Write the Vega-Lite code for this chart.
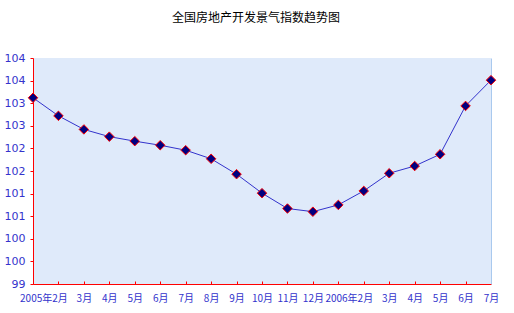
{
  "$schema": "https://vega.github.io/schema/vega-lite/v6.json",
  "width": 458,
  "height": 226,
  "autosize": "none",
  "padding": {"left": 33, "top": 58, "right": 23, "bottom": 29},
  "background": "white",
  "title": {
    "text": "全国房地产开发景气指数趋势图",
    "font": "Noto Sans CJK SC",
    "fontSize": 12,
    "fontWeight": "normal",
    "color": "#000000",
    "anchor": "middle",
    "frame": "group",
    "offset": 27,
    "dx": -6
  },
  "config": {
    "view": {"fill": "#dfeafa", "stroke": null},
    "axis": {
      "labelFont": "DejaVu Sans",
      "labelFontSize": 10,
      "labelColor": "#3333cc",
      "domainColor": "#ff0000",
      "tickColor": "#ff0000",
      "domainWidth": 1,
      "tickWidth": 1,
      "grid": false,
      "title": null
    }
  },
  "data": {
    "values": [
      {"month": "2005-01", "index": 103.12},
      {"month": "2005-02", "index": 102.72},
      {"month": "2005-03", "index": 102.42},
      {"month": "2005-04", "index": 102.26},
      {"month": "2005-05", "index": 102.16},
      {"month": "2005-06", "index": 102.07},
      {"month": "2005-07", "index": 101.96},
      {"month": "2005-08", "index": 101.77},
      {"month": "2005-09", "index": 101.43},
      {"month": "2005-10", "index": 101.01},
      {"month": "2005-11", "index": 100.67},
      {"month": "2005-12", "index": 100.60},
      {"month": "2006-01", "index": 100.75},
      {"month": "2006-02", "index": 101.06},
      {"month": "2006-03", "index": 101.45},
      {"month": "2006-04", "index": 101.61},
      {"month": "2006-05", "index": 101.87},
      {"month": "2006-06", "index": 102.94},
      {"month": "2006-07", "index": 103.51}
    ]
  },
  "encoding": {
    "x": {
      "field": "month",
      "type": "ordinal",
      "sort": null,
      "scale": {"type": "point", "padding": 0},
      "axis": {
        "labelAngle": 0,
        "tickSize": -3,
        "labelPadding": 12,
        "labelFont": "Noto Sans CJK SC",
        "labelFontSize": 10,
        "labelExpr": "slice(datum.value,5)=='01' ? '' : (slice(datum.value,5)=='02' ? slice(datum.value,0,4)+'年2月' : toNumber(slice(datum.value,5))+'月')",
        "labelOffset": {"condition": {"test": "slice(datum.value,5)=='02'", "value": -15}, "value": 0}
      }
    },
    "y": {
      "field": "index",
      "type": "quantitative",
      "scale": {"domain": [99, 104], "zero": false, "nice": false}
    }
  },
  "layer": [
    {
      "mark": {"type": "line", "color": "#3333cc", "strokeWidth": 1},
      "encoding": {
        "y": {
          "field": "index",
          "type": "quantitative",
          "scale": {"domain": [99, 104], "zero": false, "nice": false},
          "axis": {
            "orient": "left",
            "values": [99, 99.5, 100, 100.5, 101, 101.5, 102, 102.5, 103, 103.5, 104],
            "labelExpr": "format(datum.value, '.0f')",
            "tickSize": 3,
            "labelPadding": 5,
            "labelFontSize": 11
          }
        }
      }
    },
    {
      "mark": {"type": "point", "shape": "diamond", "filled": true, "size": 90, "color": "#000080", "stroke": "#ff0000", "strokeWidth": 1, "opacity": 1},
      "encoding": {
        "y": {
          "field": "index",
          "type": "quantitative",
          "scale": {"domain": [99, 104], "zero": false, "nice": false},
          "axis": {
            "orient": "right",
            "labels": false,
            "ticks": false,
            "domainColor": "#a9c9ee"
          }
        }
      }
    }
  ],
  "resolve": {"axis": {"y": "independent"}}
}
